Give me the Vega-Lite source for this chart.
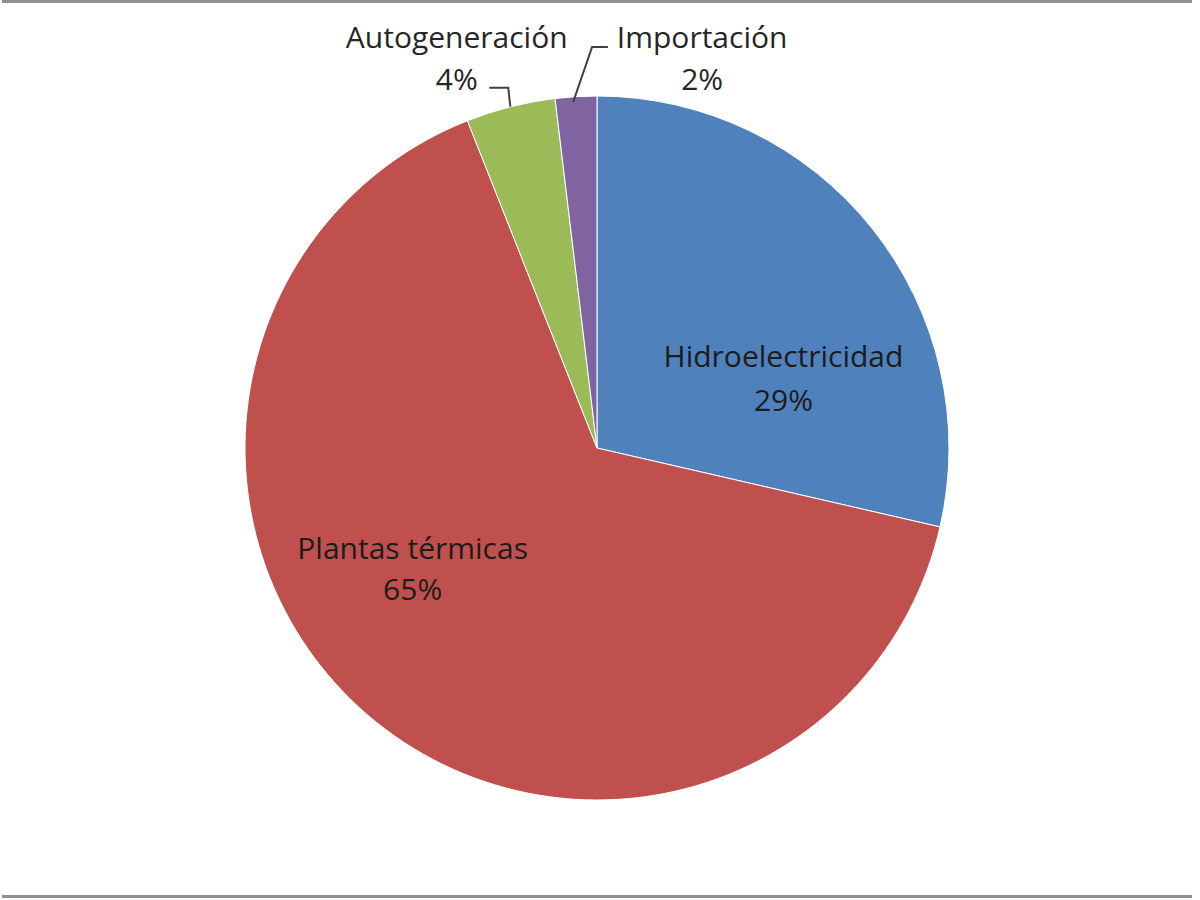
{
  "$schema": "https://vega.github.io/schema/vega-lite/v6.json",
  "width": 1200,
  "height": 900,
  "autosize": {"type": "fit", "contains": "padding"},
  "padding": {"left": 0, "top": 0, "right": 6, "bottom": 2},
  "background": "white",
  "config": {"view": {"stroke": null}, "font": "Open Sans"},
  "datasets": {
    "fuentes": [
      {"fuente": "Hidroelectricidad", "valor": 28.6, "orden": 1, "etiqueta": "Hidroelectricidad\n29%"},
      {"fuente": "Plantas térmicas", "valor": 65.4, "orden": 2, "etiqueta": "Plantas térmicas\n65%"},
      {"fuente": "Autogeneración", "valor": 4.1, "orden": 3, "etiqueta": "Autogeneración\n4%"},
      {"fuente": "Importación", "valor": 1.9, "orden": 4, "etiqueta": "Importación\n2%"}
    ],
    "guias": [
      {"fuente": "Autogeneración", "paso": 1, "x": -0.307, "y": 1.026},
      {"fuente": "Autogeneración", "paso": 2, "x": -0.253, "y": 1.026},
      {"fuente": "Autogeneración", "paso": 3, "x": -0.247, "y": 0.972},
      {"fuente": "Importación", "paso": 1, "x": 0.031, "y": 1.142},
      {"fuente": "Importación", "paso": 2, "x": -0.014, "y": 1.142},
      {"fuente": "Importación", "paso": 3, "x": -0.068, "y": 0.985}
    ]
  },
  "layer": [
    {
      "data": {"name": "fuentes"},
      "mark": {"type": "arc", "outerRadius": 352, "stroke": "white", "strokeWidth": 1},
      "encoding": {
        "theta": {"field": "valor", "type": "quantitative", "stack": true},
        "order": {"field": "orden", "type": "quantitative"},
        "color": {
          "field": "fuente",
          "type": "nominal",
          "scale": {
            "domain": ["Hidroelectricidad", "Plantas térmicas", "Autogeneración", "Importación"],
            "range": ["#4F81BD", "#C0504D", "#9BBB59", "#8064A2"]
          },
          "legend": null
        }
      }
    },
    {
      "data": {"name": "fuentes"},
      "mark": {"type": "text", "radius": 200, "dx": 30, "dy": 35, "fontSize": 30, "lineBreak": "\n", "lineHeight": 44, "align": "center", "baseline": "middle", "fill": "#1c1c1c"},
      "encoding": {
        "theta": {"field": "valor", "type": "quantitative", "stack": true},
        "order": {"field": "orden", "type": "quantitative"},
        "text": {"condition": {"test": "datum.fuente === 'Hidroelectricidad'", "field": "etiqueta"}, "value": ""}
      }
    },
    {
      "data": {"name": "fuentes"},
      "mark": {"type": "text", "radius": 200, "dx": -54, "dy": -50, "fontSize": 30, "lineBreak": "\n", "lineHeight": 41, "align": "center", "baseline": "middle", "fill": "#1c1c1c"},
      "encoding": {
        "theta": {"field": "valor", "type": "quantitative", "stack": true},
        "order": {"field": "orden", "type": "quantitative"},
        "text": {"condition": {"test": "datum.fuente === 'Plantas térmicas'", "field": "etiqueta"}, "value": ""}
      }
    },
    {
      "data": {"name": "fuentes"},
      "mark": {"type": "text", "radius": 400, "dx": -42, "dy": -21, "fontSize": 30, "lineBreak": "\n", "lineHeight": 42, "align": "center", "baseline": "middle", "fill": "#262626"},
      "encoding": {
        "theta": {"field": "valor", "type": "quantitative", "stack": true},
        "order": {"field": "orden", "type": "quantitative"},
        "text": {"condition": {"test": "datum.fuente === 'Autogeneración'", "field": "etiqueta"}, "value": ""}
      }
    },
    {
      "data": {"name": "fuentes"},
      "mark": {"type": "text", "radius": 400, "dx": 129, "dy": -10, "fontSize": 30, "lineBreak": "\n", "lineHeight": 42, "align": "center", "baseline": "middle", "fill": "#262626"},
      "encoding": {
        "theta": {"field": "valor", "type": "quantitative", "stack": true},
        "order": {"field": "orden", "type": "quantitative"},
        "text": {"condition": {"test": "datum.fuente === 'Importación'", "field": "etiqueta"}, "value": ""}
      }
    },
    {
      "data": {"name": "guias"},
      "mark": {"type": "line", "stroke": "#404040", "strokeWidth": 2},
      "encoding": {
        "x": {"field": "x", "type": "quantitative", "scale": {"domain": [-1.696, 1.696], "nice": false, "zero": false}, "axis": null},
        "y": {"field": "y", "type": "quantitative", "scale": {"domain": [-1.2756, 1.2756], "nice": false, "zero": false}, "axis": null},
        "detail": {"field": "fuente", "type": "nominal"},
        "order": {"field": "paso", "type": "quantitative"}
      }
    },
    {
      "data": {"values": [{}]},
      "mark": {"type": "rule", "stroke": "#8f8f8f", "strokeWidth": 3},
      "encoding": {"y": {"datum": 1.2713}}
    },
    {
      "data": {"values": [{}]},
      "mark": {"type": "rule", "stroke": "#8f8f8f", "strokeWidth": 3},
      "encoding": {"y": {"datum": -1.277}}
    }
  ]
}
